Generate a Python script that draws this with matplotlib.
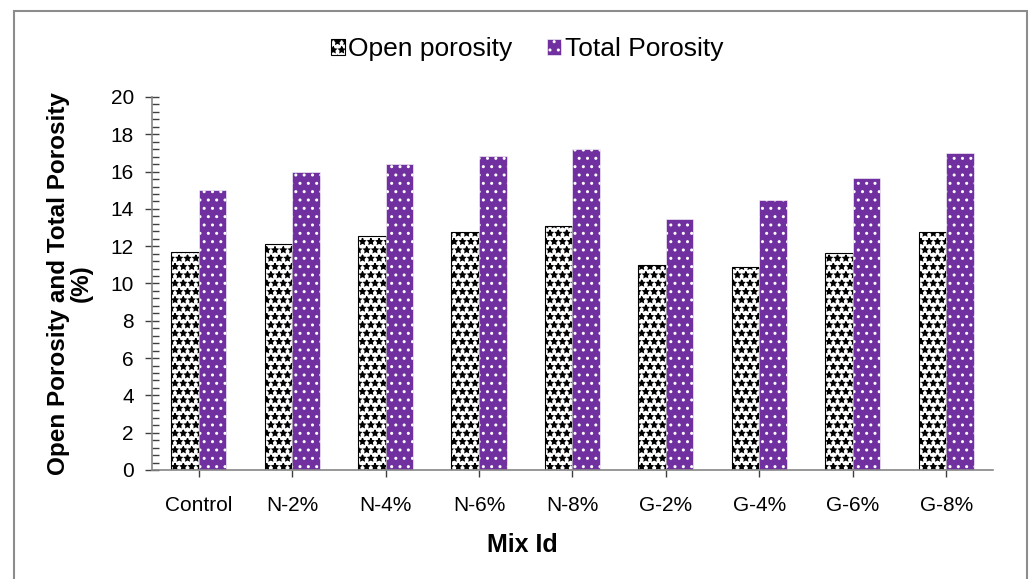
import matplotlib
matplotlib.use('Agg')
import matplotlib.pyplot as plt
import numpy as np
from matplotlib.patches import Rectangle
from matplotlib.ticker import MultipleLocator

mixes = ['Control', 'N-2%', 'N-4%', 'N-6%', 'N-8%', 'G-2%', 'G-4%', 'G-6%', 'G-8%']
open_porosity = [11.7, 12.1, 12.55, 12.75, 13.1, 11.0, 10.9, 11.65, 12.75]
total_porosity = [15.0, 16.0, 16.4, 16.85, 17.2, 13.45, 14.45, 15.65, 17.0]

plt.rcParams['font.family'] = ['Liberation Sans', 'DejaVu Sans']
plt.rcParams['hatch.linewidth'] = 1.0

fig = plt.figure(figsize=(10.29, 5.79), dpi=100)
ax = fig.add_axes([0.1477, 0.1883, 0.8173, 0.6442])

ind = np.arange(len(mixes))
width = 0.295
ax.bar(ind - width / 2, open_porosity, width, color='white', edgecolor='black',
       linewidth=0.8, hatch='**', label='Open porosity')
ax.bar(ind + width / 2, total_porosity, width, color='#7030A0', edgecolor='white',
       linewidth=0.4, hatch='..', label='Total Porosity')

ax.set_xlim(-0.5, 8.5)
ax.set_ylim(0, 20)
ax.set_xticks(ind)
ax.set_xticklabels(mixes)
ax.yaxis.set_major_locator(MultipleLocator(2))
ax.yaxis.set_minor_locator(MultipleLocator(0.4))

for side in ['top', 'right']:
    ax.spines[side].set_visible(False)
for side in ['left', 'bottom']:
    ax.spines[side].set_color('#868686')
    ax.spines[side].set_linewidth(1.2)

ax.tick_params(axis='y', which='major', direction='inout', length=10, width=1,
               color='#404040', labelsize=15, pad=8)
ax.tick_params(axis='y', which='minor', direction='in', length=5, width=1, color='#404040')
ax.tick_params(axis='x', which='major', direction='out', length=5, width=1,
               color='#404040', labelsize=15, pad=14)

ax.set_ylabel('Open Porosity and Total Porosity\n(%)', fontsize=17.5, fontweight='bold',
              linespacing=0.95, labelpad=13)
fig.text(0.508, 0.058, 'Mix Id', fontsize=18, fontweight='bold', ha='center', va='center')

ax.legend(loc='center', bbox_to_anchor=(0.512, 0.915), bbox_transform=fig.transFigure,
          ncol=2, frameon=False, fontsize=19, handlelength=0.55, handleheight=0.55,
          handletextpad=0.12, columnspacing=1.3)

fig.patches.append(Rectangle((14 / 1029, -0.05), (1027 - 14) / 1029, 1.05 - 11 / 579,
                             transform=fig.transFigure, fill=False, edgecolor='#8c8c8c',
                             linewidth=1.5))

fig.savefig('out.png', dpi=100)
